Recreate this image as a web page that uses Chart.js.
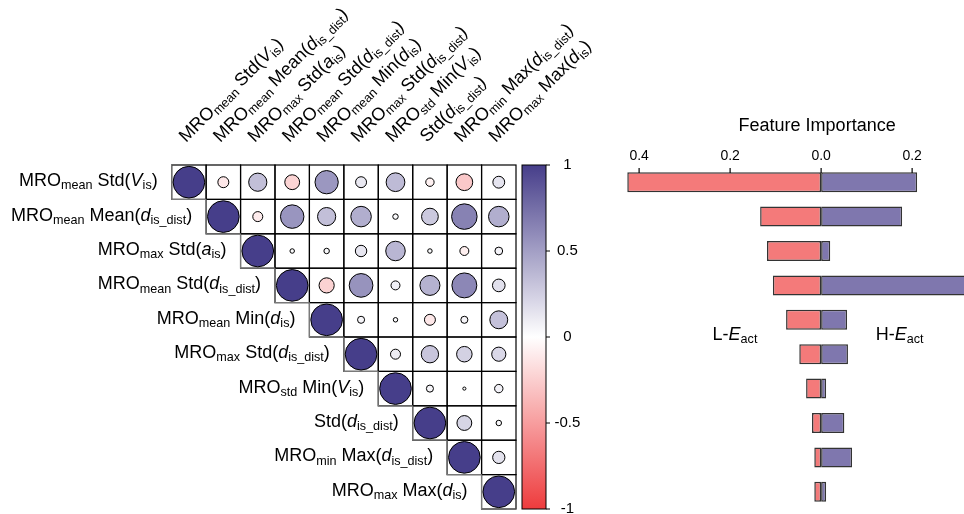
<!DOCTYPE html>
<html>
<head>
<meta charset="utf-8">
<script src="https://cdn.jsdelivr.net/npm/chart.js@4.4.0/dist/chart.umd.min.js"></script>
<style>
  html, body { margin: 0; padding: 0; background: #fff; }
  body { width: 964px; height: 514px; position: relative; overflow: hidden; }
  .chart-box { position: absolute; top: 0; height: 514px; }
  #corrBox { left: 0; width: 600px; }
  #importanceBox { left: 600px; width: 364px; }
</style>
</head>
<body>
<div id="corrBox" class="chart-box"><canvas id="corrChart"></canvas></div>
<div id="importanceBox" class="chart-box"><canvas id="importanceChart"></canvas></div>
<script>
const FONT = '"Liberation Sans", Arial, sans-serif';
Chart.defaults.font.family = FONT;
Chart.defaults.color = "#000";

// _{..} = subscript, *..* = italic
const FEATURES = [
  "MRO_{mean} Std(*V*_{is})",
  "MRO_{mean} Mean(*d*_{is_dist})",
  "MRO_{max} Std(*a*_{is})",
  "MRO_{mean} Std(*d*_{is_dist})",
  "MRO_{mean} Min(*d*_{is})",
  "MRO_{max} Std(*d*_{is_dist})",
  "MRO_{std} Min(*V*_{is})",
  "Std(*d*_{is_dist})",
  "MRO_{min} Max(*d*_{is_dist})",
  "MRO_{max} Max(*d*_{is})"
];

// upper triangle, row i starts at the diagonal
const CORRELATIONS = [
  [1, -0.12, 0.33, -0.22, 0.54, 0.12, 0.35, -0.07, -0.28, 0.14],
  [1, -0.10, 0.55, 0.33, 0.42, 0.03, 0.28, 0.65, 0.42],
  [1, 0.02, 0.03, 0.13, 0.38, 0.02, -0.08, 0.06],
  [1, -0.23, 0.56, 0.08, 0.40, 0.62, 0.16],
  [1, 0.05, 0.02, -0.12, 0.05, 0.32],
  [1, 0.10, 0.30, 0.24, 0.20],
  [1, 0.05, 0.01, 0.07],
  [1, 0.22, 0.03],
  [1, 0.15],
  [1]
];
const COLORBAR_TICKS = [-1, -0.5, 0, 0.5, 1];

const L_IMPORTANCE = [0.426, 0.134, 0.119, 0.106, 0.077, 0.048, 0.033, 0.020, 0.015, 0.015];
const H_IMPORTANCE = [0.211, 0.178, 0.020, 0.350, 0.057, 0.059, 0.011, 0.051, 0.068, 0.011];
const IMPORTANCE_TICKS = [-0.4, -0.2, 0, 0.2];

const POS_RGB = [70, 62, 138];
const NEG_RGB = [238, 59, 61];

function corrColor(v) {
  const c = v >= 0 ? POS_RGB : NEG_RGB;
  const t = Math.min(1, Math.abs(v));
  const mix = c.map((ch) => Math.round(255 + (ch - 255) * t));
  return `rgb(${mix[0]}, ${mix[1]}, ${mix[2]})`;
}

function parseRich(str) {
  const parts = [];
  const re = /_\{([^}]*)\}|\*([^*]*)\*|([^_*]+)/g;
  let m;
  while ((m = re.exec(str))) {
    if (m[1] !== undefined) parts.push({ text: m[1], sub: true });
    else if (m[2] !== undefined) parts.push({ text: m[2], italic: true });
    else parts.push({ text: m[3] });
  }
  return parts;
}

function drawRich(ctx, str, x, y, size, align) {
  const parts = parseRich(str);
  const fontOf = (p) => `${p.italic ? "italic " : ""}${p.sub ? size * 0.7 : size}px ${FONT}`;
  let total = 0;
  parts.forEach((p) => {
    ctx.font = fontOf(p);
    p.w = ctx.measureText(p.text).width;
    total += p.w;
  });
  let cx = align === "right" ? x - total : align === "center" ? x - total / 2 : x;
  ctx.textAlign = "left";
  ctx.textBaseline = "alphabetic";
  ctx.fillStyle = "#000";
  parts.forEach((p) => {
    ctx.font = fontOf(p);
    ctx.fillText(p.text, cx, p.sub ? y + size * 0.18 : y);
    cx += p.w;
  });
}

const corrPoints = [];
CORRELATIONS.forEach((row, i) => {
  row.forEach((v, k) => corrPoints.push({ x: i + k + 1, y: i + 1, v }));
});

function bubbleRadius(c) {
  if (!c.raw) return 0;
  const s = c.chart.scales.x;
  const cell = Math.abs(s.getPixelForValue(1) - s.getPixelForValue(0));
  return cell * 0.46 * Math.sqrt(Math.abs(c.raw.v));
}

const corrDecor = {
  id: "corrDecor",
  beforeDatasetsDraw(chart) {
    const { ctx, scales: { x, y } } = chart;
    const n = FEATURES.length;
    ctx.save();
    ctx.lineWidth = 1.2;
    ctx.strokeStyle = "#000";
    for (let i = 0; i < n; i++) {
      const t = y.getPixelForValue(i + 0.5);
      const b = y.getPixelForValue(i + 1.5);
      for (let j = i; j < n; j++) {
        const l = x.getPixelForValue(j + 0.5);
        const r = x.getPixelForValue(j + 1.5);
        ctx.strokeRect(l, t, r - l, b - t);
      }
    }
    // staircase edge in grey
    ctx.strokeStyle = "#7a7a7a";
    for (let i = 0; i < n; i++) {
      const t = y.getPixelForValue(i + 0.5);
      const b = y.getPixelForValue(i + 1.5);
      const l = x.getPixelForValue(i + 0.5);
      const r = x.getPixelForValue(i + 1.5);
      ctx.beginPath();
      ctx.moveTo(l, t);
      ctx.lineTo(l, b);
      ctx.lineTo(r, b);
      ctx.stroke();
    }
    ctx.restore();
  },
  afterDraw(chart) {
    const { ctx, chartArea, scales: { x, y, cb } } = chart;
    ctx.save();
    // row labels
    FEATURES.forEach((label, i) => {
      drawRich(ctx, label, x.getPixelForValue(i + 0.5) - 14, y.getPixelForValue(i + 1) + 4, 18, "right");
    });
    // column labels
    FEATURES.forEach((label, j) => {
      ctx.save();
      ctx.translate(x.getPixelForValue(j + 1) - 3, chartArea.top - 22);
      ctx.rotate(-Math.PI / 4);
      drawRich(ctx, label, 0, 0, 18, "left");
      ctx.restore();
    });
    // colour bar
    const top = cb.getPixelForValue(1);
    const bottom = cb.getPixelForValue(-1);
    const left = chartArea.right + 6;
    const width = 24;
    const grad = ctx.createLinearGradient(0, top, 0, bottom);
    for (let k = 0; k <= 20; k++) grad.addColorStop(k / 20, corrColor(1 - k / 10));
    ctx.fillStyle = grad;
    ctx.fillRect(left, top, width, bottom - top);
    ctx.strokeStyle = "#000";
    ctx.lineWidth = 1;
    ctx.strokeRect(left, top, width, bottom - top);
    COLORBAR_TICKS.forEach((v) => {
      const py = cb.getPixelForValue(v);
      ctx.beginPath();
      ctx.moveTo(left + width, py);
      ctx.lineTo(left + width + 4, py);
      ctx.stroke();
    });
    ctx.restore();
  }
};

new Chart(document.getElementById("corrChart"), {
  type: "scatter",
  data: {
    datasets: [{
      data: corrPoints,
      backgroundColor: (c) => (c.raw ? corrColor(c.raw.v) : "#fff"),
      borderColor: "#000",
      borderWidth: 1,
      pointRadius: bubbleRadius,
      pointHoverRadius: bubbleRadius
    }]
  },
  options: {
    responsive: true,
    maintainAspectRatio: false,
    animation: false,
    events: [],
    layout: { padding: { left: 171.7, top: 165, bottom: 5, right: 0 } },
    plugins: { legend: { display: false }, tooltip: { enabled: false } },
    scales: {
      x: { type: "linear", min: 0.5, max: 10.5, display: false },
      y: { type: "linear", min: 0.5, max: 10.5, reverse: true, display: false },
      cb: {
        type: "linear",
        position: "right",
        min: -1,
        max: 1,
        afterBuildTicks: (axis) => { axis.ticks = COLORBAR_TICKS.map((v) => ({ value: v })); },
        afterFit: (axis) => { axis.width = 84; },
        grid: { display: false, drawTicks: true, tickLength: 38 },
        border: { display: false },
        ticks: {
          crossAlign: "center",
          padding: 0.5,
          font: { size: 15, lineHeight: 0.6 },
          callback: (v) => String(v)
        }
      }
    }
  },
  plugins: [corrDecor]
});

const importanceDecor = {
  id: "importanceDecor",
  afterDraw(chart) {
    const { ctx, chartArea, scales: { x, y } } = chart;
    ctx.save();
    ctx.strokeStyle = "#000";
    ctx.lineWidth = 1.2;
    IMPORTANCE_TICKS.forEach((v) => {
      const px = x.getPixelForValue(v);
      ctx.beginPath();
      ctx.moveTo(px, chartArea.top + 3);
      ctx.lineTo(px, chartArea.top + 8);
      ctx.stroke();
    });
    ctx.fillStyle = "#000";
    ctx.font = `18px ${FONT}`;
    ctx.textAlign = "center";
    ctx.textBaseline = "alphabetic";
    ctx.fillText("Feature Importance", x.getPixelForValue(0) - 4, chartArea.top - 34.5);
    const midY = (y.getPixelForValue(4) + y.getPixelForValue(5)) / 2 + 3;
    drawRich(ctx, "L-*E*_{act}", x.getPixelForValue(-0.14), midY, 18, "right");
    drawRich(ctx, "H-*E*_{act}", x.getPixelForValue(0.12), midY, 18, "left");
    ctx.restore();
  }
};

new Chart(document.getElementById("importanceChart"), {
  type: "bar",
  data: {
    labels: FEATURES,
    datasets: [
      {
        label: "L-Eact",
        data: L_IMPORTANCE.map((v) => -v),
        backgroundColor: "#F47A7A",
        borderColor: "rgba(0, 0, 0, 0.8)",
        borderWidth: 1.5,
        borderSkipped: false
      },
      {
        label: "H-Eact",
        data: H_IMPORTANCE,
        backgroundColor: "#7F77AE",
        borderColor: "rgba(0, 0, 0, 0.8)",
        borderWidth: 1.5,
        borderSkipped: false
      }
    ]
  },
  options: {
    indexAxis: "y",
    responsive: true,
    maintainAspectRatio: false,
    animation: false,
    events: [],
    categoryPercentage: 1,
    barPercentage: 0.58,
    layout: { padding: { left: 20, right: 0, top: 141, bottom: 5 } },
    plugins: { legend: { display: false }, tooltip: { enabled: false } },
    scales: {
      x: {
        stacked: true,
        position: "top",
        min: -0.442,
        max: 0.314,
        afterBuildTicks: (axis) => { axis.ticks = IMPORTANCE_TICKS.map((v) => ({ value: v })); },
        afterFit: (axis) => { axis.height = 24; },
        grid: { display: false, drawTicks: false },
        border: { display: false },
        ticks: {
          padding: 0,
          font: { size: 14 },
          callback: (v) => Math.abs(v).toFixed(1)
        }
      },
      y: { stacked: true, display: false }
    }
  },
  plugins: [importanceDecor]
});
</script>
</body>
</html>
